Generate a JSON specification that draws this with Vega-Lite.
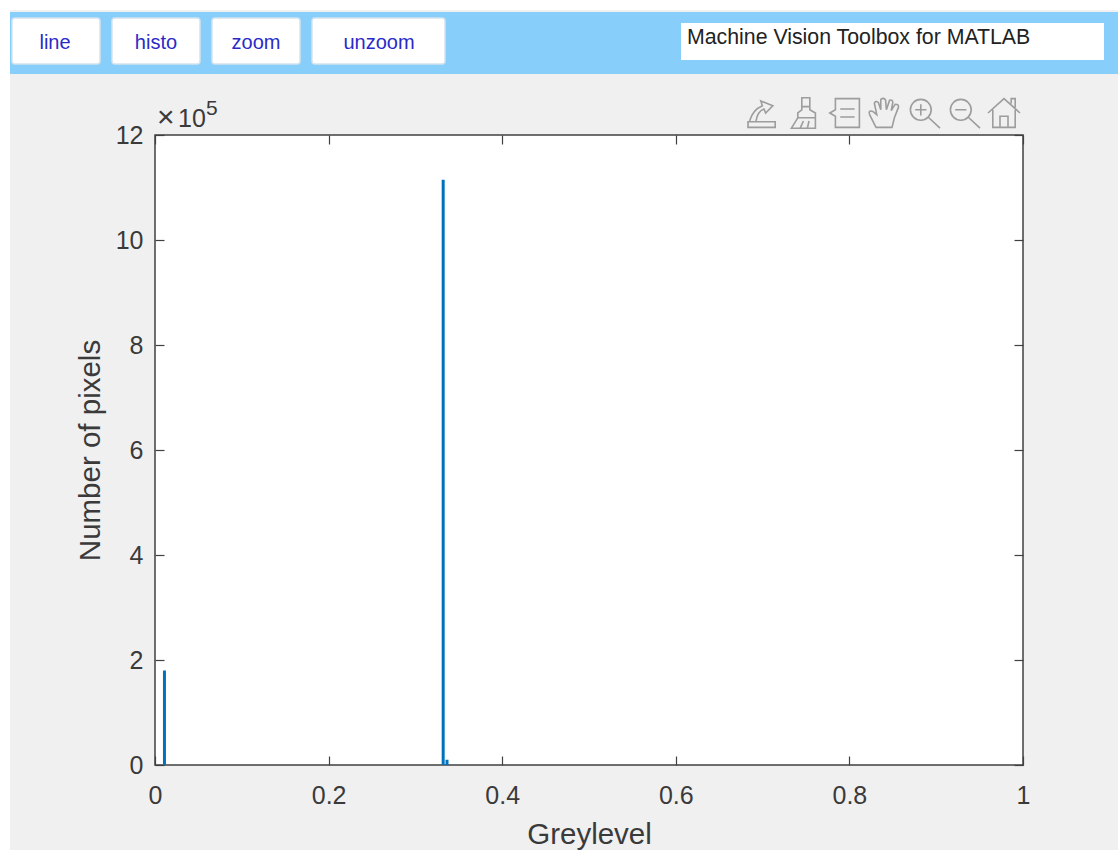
{
"$schema":"https://vega.github.io/schema/vega-lite/v6.json",
"width":868,"height":630,
"autosize":{"type":"none"},
"padding":{"left":155,"top":135,"right":95,"bottom":85},
"background":"#f0f0f0",
"view":{"fill":"white","stroke":"#404040","strokeWidth":1.5},
"config":{"text":{"font":"Liberation Sans"},"axis":{"labelFont":"Liberation Sans","titleFont":"Liberation Sans"}},
"data":{"values":[{"greylevel":0.0109,"pixels":180000},{"greylevel":0.332,"pixels":1115000},{"greylevel":0.3364,"pixels":10000}]},
"layer":[
{"mark":{"type":"bar","size":3,"color":"#0072BD","clip":false},
 "encoding":{
  "x":{"field":"greylevel","type":"quantitative","scale":{"domain":[0,1],"nice":false,"zero":false,"padding":0},
   "axis":{"title":"Greylevel","values":[0,0.2,0.4,0.6,0.8,1],"labelExpr":"datum.value==0||datum.value==1?format(datum.value,'d'):format(datum.value,'.1f')","tickSize":-9,"tickColor":"#404040","tickWidth":1.2,"labelPadding":27,"labelFontSize":25,"labelColor":"#3a3a3a","titleFontSize":29.5,"titleFontWeight":"normal","titleColor":"#3a3a3a","titlePadding":12,"domain":false,"grid":false,"labelFlush":false,"labelOverlap":false}},
  "y":{"field":"pixels","type":"quantitative","scale":{"domain":[0,1200000],"nice":false,"zero":false},
   "axis":{"title":"Number of pixels","values":[0,200000,400000,600000,800000,1000000,1200000],"labelExpr":"format(datum.value/100000,'d')","tickSize":-9,"tickColor":"#404040","tickWidth":1.2,"labelPadding":21,"labelFontSize":25,"labelColor":"#3a3a3a","titleFontSize":29.5,"titleFontWeight":"normal","titleColor":"#3a3a3a","titlePadding":10,"domain":false,"grid":false,"labelOverlap":false}}
 }},
{"mark":{"type":"bar","size":3,"opacity":0},
 "encoding":{
  "x":{"field":"greylevel","type":"quantitative","axis":{"orient":"top","title":null,"values":[0,0.2,0.4,0.6,0.8,1],"labels":false,"domain":false,"grid":false,"tickSize":-9,"tickColor":"#404040","tickWidth":1.2}},
  "y":{"field":"pixels","type":"quantitative","axis":{"orient":"right","title":null,"values":[0,200000,400000,600000,800000,1000000,1200000],"labels":false,"domain":false,"grid":false,"tickSize":-9,"tickColor":"#404040","tickWidth":1.2}}
 }},
{"data":{"values":[{}]},
 "layer":[
 {"mark":{"type":"rect","color":"white"},"encoding":{"x":{"datum":-0.17857,"axis":null},"x2":{"datum":1.10945},"y":{"datum":1438095,"axis":null},"y2":{"datum":1457143}}},
 {"mark":{"type":"rect","color":"white"},"encoding":{"x":{"datum":-0.17857,"axis":null},"x2":{"datum":-0.16705},"y":{"datum":-161905,"axis":null},"y2":{"datum":1457143}}},
 {"mark":{"type":"rect","color":"#87CEFA"},"encoding":{"x":{"datum":-0.16705,"axis":null},"x2":{"datum":1.10945},"y":{"datum":1316190,"axis":null},"y2":{"datum":1434286}}},
 {"mark":{"type":"rect","color":"white","stroke":"#d5e3ee","strokeWidth":1.5,"cornerRadius":3},"encoding":{"x":{"datum":-0.16475,"axis":null},"x2":{"datum":-0.06336},"y":{"datum":1335238,"axis":null},"y2":{"datum":1422857}}},
 {"mark":{"type":"rect","color":"white","stroke":"#d5e3ee","strokeWidth":1.5,"cornerRadius":3},"encoding":{"x":{"datum":-0.04954,"axis":null},"x2":{"datum":0.05184},"y":{"datum":1335238,"axis":null},"y2":{"datum":1422857}}},
 {"mark":{"type":"rect","color":"white","stroke":"#d5e3ee","strokeWidth":1.5,"cornerRadius":3},"encoding":{"x":{"datum":0.06567,"axis":null},"x2":{"datum":0.16705},"y":{"datum":1335238,"axis":null},"y2":{"datum":1422857}}},
 {"mark":{"type":"rect","color":"white","stroke":"#d5e3ee","strokeWidth":1.5,"cornerRadius":3},"encoding":{"x":{"datum":0.18088,"axis":null},"x2":{"datum":0.3341},"y":{"datum":1335238,"axis":null},"y2":{"datum":1422857}}},
 {"mark":{"type":"rect","color":"white"},"encoding":{"x":{"datum":0.60599,"axis":null},"x2":{"datum":1.09332},"y":{"datum":1342857,"axis":null},"y2":{"datum":1413333}}},
 {"mark":{"type":"text","text":"line","fontSize":20,"color":"#2a2ac8","align":"center","baseline":"middle"},"encoding":{"x":{"datum":-0.11521,"axis":null},"y":{"datum":1375238,"axis":null}}},
 {"mark":{"type":"text","text":"histo","fontSize":20,"color":"#2a2ac8","align":"center","baseline":"middle"},"encoding":{"x":{"datum":0.00115,"axis":null},"y":{"datum":1375238,"axis":null}}},
 {"mark":{"type":"text","text":"zoom","fontSize":20,"color":"#2a2ac8","align":"center","baseline":"middle"},"encoding":{"x":{"datum":0.11636,"axis":null},"y":{"datum":1375238,"axis":null}}},
 {"mark":{"type":"text","text":"unzoom","fontSize":20,"color":"#2a2ac8","align":"center","baseline":"middle"},"encoding":{"x":{"datum":0.25806,"axis":null},"y":{"datum":1375238,"axis":null}}},
 {"mark":{"type":"text","text":"Machine Vision Toolbox for MATLAB","fontSize":21.3,"color":"#222222","align":"left","baseline":"middle"},"encoding":{"x":{"datum":0.6129,"axis":null},"y":{"datum":1384762,"axis":null}}},
 {"mark":{"type":"text","text":"×","fontSize":30,"color":"#3a3a3a","align":"left","baseline":"alphabetic"},"encoding":{"x":{"datum":0.0023,"axis":null},"y":{"datum":1215238,"axis":null}}},
 {"mark":{"type":"text","text":"10","fontSize":25,"color":"#3a3a3a","align":"left","baseline":"alphabetic"},"encoding":{"x":{"datum":0.0265,"axis":null},"y":{"datum":1215238,"axis":null}}},
 {"mark":{"type":"text","text":"5","fontSize":21,"color":"#3a3a3a","align":"left","baseline":"alphabetic"},"encoding":{"x":{"datum":0.05876,"axis":null},"y":{"datum":1238000,"axis":null}}},
 {"mark":{"type":"point","size":1024,"filled":false,"stroke":"#7a7a7a","strokeWidth":1.6,"shape":"M-0.9 0.5 Q-0.7 -0.2 -0.1 -0.45 L-0.2 -0.75 L0.55 -0.45 L0.1 0 L0 -0.25 Q-0.4 -0.1 -0.5 0.5 M-1 0.55 L0.7 0.55 L0.7 0.9 L-1 0.9 Z"},"encoding":{"x":{"datum":0.70161,"axis":null},"y":{"datum":1241905,"axis":null}}},
 {"mark":{"type":"point","size":1024,"filled":false,"stroke":"#7a7a7a","strokeWidth":1.6,"shape":"M-0.2 -0.95 L0.3 -0.95 L0.3 -0.2 L0.65 0 L0.65 0.3 L-0.45 0.3 L-0.45 0 L-0.2 -0.2 Z M-0.2 -0.4 L0.3 -0.4 M-0.45 0.3 L-0.85 0.95 L0.65 0.95 L0.65 0.3 M-0.3 0.95 L-0.1 0.5 M0.15 0.95 L0.25 0.5"},"encoding":{"x":{"datum":0.74885,"axis":null},"y":{"datum":1241905,"axis":null}}},
 {"mark":{"type":"point","size":1024,"filled":false,"stroke":"#7a7a7a","strokeWidth":1.6,"shape":"M-0.6 -0.9 L0.9 -0.9 L0.9 0.9 L-0.6 0.9 L-0.6 0.2 L-0.95 0 L-0.6 -0.2 Z M-0.3 -0.25 L0.6 -0.25 M-0.3 0.25 L0.6 0.25"},"encoding":{"x":{"datum":0.79493,"axis":null},"y":{"datum":1241905,"axis":null}}},
 {"mark":{"type":"point","size":1024,"filled":false,"stroke":"#7a7a7a","strokeWidth":1.6,"shape":"M-0.5 0.9 L-0.9 0.1 Q-1 -0.2 -0.7 -0.1 L-0.45 0.1 L-0.6 -0.6 Q-0.55 -0.8 -0.35 -0.65 L-0.2 -0.2 L-0.2 -0.85 Q0 -1 0.1 -0.8 L0.15 -0.2 L0.35 -0.8 Q0.55 -0.85 0.55 -0.65 L0.45 -0.15 L0.7 -0.55 Q0.95 -0.55 0.9 -0.35 L0.65 0.3 L0.5 0.9 Z"},"encoding":{"x":{"datum":0.83986,"axis":null},"y":{"datum":1241905,"axis":null}}},
 {"mark":{"type":"point","size":1024,"filled":false,"stroke":"#7a7a7a","strokeWidth":1.6,"shape":"M0.45 -0.2 A0.65 0.65 0 1 1 -0.85 -0.2 A0.65 0.65 0 1 1 0.45 -0.2 M0.25 0.25 L1 0.95 M-0.55 -0.2 L0.15 -0.2 M-0.2 -0.55 L-0.2 0.15"},"encoding":{"x":{"datum":0.88594,"axis":null},"y":{"datum":1241905,"axis":null}}},
 {"mark":{"type":"point","size":1024,"filled":false,"stroke":"#7a7a7a","strokeWidth":1.6,"shape":"M0.45 -0.2 A0.65 0.65 0 1 1 -0.85 -0.2 A0.65 0.65 0 1 1 0.45 -0.2 M0.25 0.25 L1 0.95 M-0.55 -0.2 L0.15 -0.2"},"encoding":{"x":{"datum":0.93203,"axis":null},"y":{"datum":1241905,"axis":null}}},
 {"mark":{"type":"point","size":1024,"filled":false,"stroke":"#7a7a7a","strokeWidth":1.6,"shape":"M-1 0 L0 -0.9 L1 0 M-0.7 -0.2 L-0.7 0.9 L0.7 0.9 L0.7 -0.2 M-0.25 0.9 L-0.25 0.2 L0.25 0.2 L0.25 0.9 M0.45 -0.6 L0.45 -0.9 L0.7 -0.9 L0.7 -0.35"},"encoding":{"x":{"datum":0.97811,"axis":null},"y":{"datum":1241905,"axis":null}}}
 ]}
],
"resolve":{"axis":{"x":"independent","y":"independent"}}
}
